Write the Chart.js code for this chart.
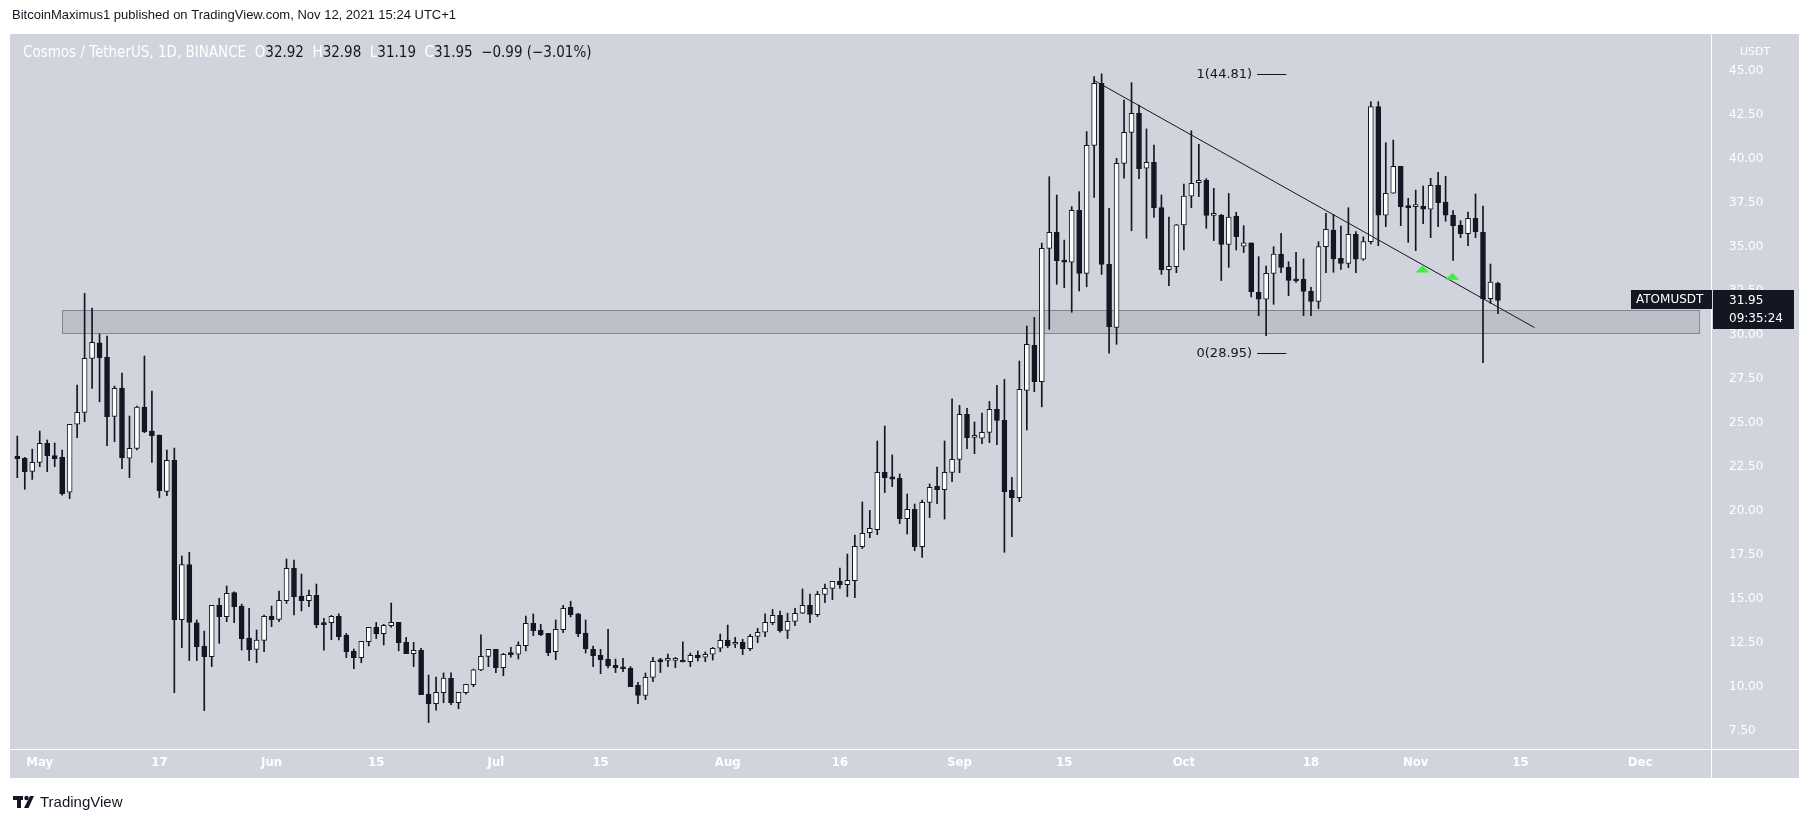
<!DOCTYPE html>
<html>
<head>
<meta charset="utf-8">
<title>ATOMUSDT 1D</title>
<script src="https://cdn.jsdelivr.net/npm/chart.js@4.4.1/dist/chart.umd.min.js"></script>
<style>
  html, body { margin: 0; padding: 0; background: #fff; }
  canvas { display: block; }
</style>
</head>
<body>
<canvas id="chart" width="1813" height="826"></canvas>
<script>
// daily candles, index 0 = 2021-04-28, last = 2021-11-12
const opens = [
  23.11,22.98,22.24,22.75,23.83,23.13,23.03,21.05,24.91,25.59,
  28.65,29.53,28.73,25.36,26.97,22.98,23.54,25.89,24.53,24.30,
  21.10,22.86,13.81,16.95,13.63,12.32,11.71,14.63,13.99,15.35,
  14.59,12.77,12.13,12.64,14.00,13.83,14.89,16.75,15.16,14.89,
  15.20,13.57,13.65,14.00,12.92,12.02,11.66,12.57,13.38,13.02,
  13.47,13.66,12.53,11.88,12.07,9.58,9.05,9.67,10.48,9.10,
  9.67,10.12,10.96,11.73,12.13,11.09,11.85,11.85,12.34,13.61,
  13.21,13.04,12.00,13.25,14.52,14.14,13.06,12.13,11.79,11.56,
  11.22,11.11,11.05,10.09,9.52,10.54,11.52,11.50,11.50,11.51,
  11.43,11.81,11.68,11.85,12.19,12.64,12.42,12.53,12.17,12.87,
  13.10,13.64,14.06,13.21,13.72,14.18,14.63,14.10,15.25,15.59,
  15.99,15.80,16.03,17.96,18.76,18.93,22.18,21.92,21.84,19.55,
  20.08,17.96,20.48,21.38,21.20,22.18,22.92,25.47,24.17,24.12,
  24.45,25.76,25.13,21.16,20.74,26.84,29.39,27.33,34.90,35.81,
  34.24,34.11,37.06,33.48,40.75,44.27,33.99,30.41,39.73,41.49,
  42.57,39.45,39.79,37.21,33.69,33.86,36.23,37.86,38.63,38.76,
  36.77,36.77,35.13,36.74,35.03,35.21,32.40,32.01,33.48,34.58,
  33.82,33.14,33.14,32.46,31.89,35.00,35.94,34.33,34.05,35.70,
  34.28,35.28,42.95,36.78,38.03,39.56,37.30,37.27,37.30,37.12,
  38.48,37.53,36.78,36.21,35.74,36.61,35.81,32.05,32.92
];
const highs = [
  24.24,23.03,23.50,24.53,24.02,23.85,23.45,24.91,27.14,32.35,
  31.51,30.04,29.92,27.08,27.82,25.38,25.95,28.79,26.80,24.30,
  23.45,23.56,17.43,17.64,13.80,13.17,14.63,15.03,15.73,15.39,
  14.70,14.46,13.23,14.08,14.59,15.44,17.26,17.20,16.41,15.50,
  15.84,13.89,14.06,14.14,13.04,12.15,12.58,13.38,13.66,13.55,
  14.76,13.66,12.81,12.53,12.19,10.67,10.56,10.79,10.79,9.69,
  10.14,11.01,12.95,12.13,12.13,11.90,12.24,12.55,14.02,14.14,
  13.55,13.04,13.80,14.63,14.86,14.18,13.80,12.32,12.13,13.27,
  11.58,11.62,11.15,10.26,10.79,11.68,11.62,11.86,11.67,12.55,
  11.92,12.04,11.98,12.24,13.00,13.51,12.81,12.70,12.98,13.32,
  14.14,14.40,14.31,14.18,14.46,15.56,15.27,15.42,15.84,15.99,
  16.75,17.54,18.62,20.50,20.02,23.96,24.81,23.17,22.09,20.95,
  20.38,20.61,21.52,22.48,23.96,26.35,25.99,25.82,25.04,25.55,
  26.21,27.12,27.46,21.90,28.50,30.49,30.98,35.20,38.97,37.93,
  35.37,37.27,38.12,41.53,44.65,44.81,37.17,40.01,43.32,44.31,
  43.04,41.68,40.77,37.93,36.68,36.26,38.55,41.58,40.81,38.86,
  38.31,36.83,38.02,36.95,36.19,35.21,34.43,33.90,35.00,35.75,
  34.14,34.68,34.30,32.69,35.28,36.89,36.83,36.17,37.21,35.85,
  35.56,43.23,43.23,40.90,41.05,39.56,37.74,38.21,38.44,38.88,
  39.22,38.99,37.04,36.47,36.96,37.99,37.30,34.01,32.98
];
const lows = [
  21.88,21.22,21.78,22.50,22.22,22.50,20.89,20.69,24.15,25.06,
  26.95,26.19,23.70,23.92,22.39,21.88,23.45,24.43,22.75,20.74,
  20.86,9.67,12.22,11.49,11.49,8.65,11.15,12.47,13.70,13.64,
  12.09,11.49,11.37,12.00,13.42,13.70,14.74,14.08,14.31,14.55,
  13.36,12.09,12.68,12.66,11.66,11.03,11.37,12.32,12.74,12.38,
  13.38,12.05,11.88,11.15,9.56,7.97,8.68,9.10,8.99,8.76,
  9.58,10.01,10.92,11.15,10.81,10.63,11.68,11.58,12.04,12.91,
  12.91,11.77,11.54,13.08,13.97,12.85,11.92,11.15,10.75,11.07,
  10.81,10.86,10.01,9.04,9.27,10.30,10.81,11.15,11.09,11.41,
  11.15,11.47,11.43,11.52,12.00,12.23,12.23,11.83,12.05,12.51,
  12.85,13.53,13.11,12.74,13.47,14.16,13.64,13.99,14.78,14.95,
  15.59,15.12,15.06,17.85,18.47,18.64,21.03,21.37,19.27,18.68,
  17.73,17.35,19.61,20.40,19.53,21.65,22.16,23.53,23.24,23.81,
  23.87,23.75,17.64,18.53,20.52,24.59,26.76,25.90,30.30,32.86,
  32.67,31.27,32.48,32.72,37.80,33.42,28.95,29.45,38.88,35.90,
  38.86,35.47,36.66,33.42,32.78,33.52,34.81,37.21,37.84,36.04,
  35.34,33.07,33.82,34.81,34.66,32.14,31.08,29.94,31.72,33.52,
  32.21,32.97,31.08,31.08,31.48,33.52,33.54,33.71,33.80,33.52,
  34.22,35.15,35.05,36.13,38.03,36.19,35.24,34.77,36.30,35.51,
  36.13,36.44,34.22,35.51,35.05,35.51,28.41,31.78,31.19
];
const closes = [
  22.96,22.22,22.75,23.83,23.13,22.96,20.97,24.91,25.59,28.65,
  29.56,28.69,25.34,26.95,23.01,23.54,25.89,24.49,24.26,21.14,
  22.86,13.81,16.95,13.66,12.28,11.71,14.63,13.99,15.31,14.55,
  12.74,12.11,12.66,14.00,13.81,14.91,16.73,15.12,14.89,15.20,
  13.53,13.53,14.00,12.85,12.00,11.66,12.58,13.38,13.00,13.49,
  13.66,12.51,11.88,12.07,9.56,9.05,9.69,10.50,9.10,9.69,
  10.14,10.96,11.73,12.13,11.09,11.85,11.83,12.36,13.61,13.19,
  12.96,11.94,13.27,14.46,14.10,13.02,12.17,11.77,11.54,11.20,
  11.09,11.03,10.01,9.52,10.54,11.45,11.43,11.50,11.51,11.41,
  11.79,11.66,11.85,12.19,12.64,12.34,12.53,12.17,12.87,13.10,
  13.66,14.06,13.19,13.72,14.18,14.63,14.12,15.25,15.59,15.99,
  15.80,16.05,17.98,18.72,19.00,22.18,21.88,21.80,19.55,20.08,
  17.96,20.48,21.33,21.20,22.18,22.92,25.47,24.15,24.17,24.45,
  25.76,25.13,21.08,20.74,26.89,29.45,27.33,34.90,35.81,34.20,
  34.11,37.06,33.48,40.75,44.27,33.99,30.45,39.73,41.49,42.57,
  39.43,39.79,37.21,33.69,33.88,36.23,37.87,38.60,38.76,36.77,
  36.77,35.13,36.68,35.56,35.21,32.44,32.01,33.48,34.58,33.82,
  33.08,33.05,32.46,31.89,35.00,35.98,34.30,34.05,35.70,34.28,
  35.28,42.95,36.78,38.03,39.56,37.27,37.21,37.27,37.12,38.48,
  37.49,36.78,36.19,35.74,36.61,35.85,32.05,32.99,31.95
];

// axis ticks (x = day index from 2021-04-28)
const xTickIdx = [3, 19, 34, 48, 64, 78, 95, 110, 126, 140, 156, 173, 187, 201, 217];
const xTickText = ['May', '17', 'Jun', '15', 'Jul', '15', 'Aug', '16', 'Sep', '15', 'Oct', '18', 'Nov', '15', 'Dec'];
const yTickVals = [7.5, 10, 12.5, 15, 17.5, 20, 22.5, 25, 27.5, 30, 32.5, 35, 37.5, 40, 42.5, 45];

// drawings on the chart
const zoneIdx = [6.0, 224.9];
const zonePrice = [30.07, 31.40];
const trendIdx = [143.9, 202.9];
const trendPrice = [44.46, 30.40];
const fibPrice = [44.81, 28.95];
const fibText = ['1(44.81)', '0(28.95)'];
const fibIdx = [165.8, 169.7];
const arrowIdx = [187.9, 191.9];
const arrowPrice = [33.73, 33.32];
const lastPrice = 31.95;

const DARK = '#131722';
const BG = '#d1d4dc';
const NARROW = '"Liberation Sans Narrow", "DejaVu Sans Condensed", "Liberation Sans", sans-serif';
const AXISFONT = '"DejaVu Sans", sans-serif';

const idx = opens.map((_, i) => i);
const bodies = idx.map(i => ({ x: i, y: [opens[i], closes[i]] }));
const wicks = idx.map(i => ({ x: i, y: [lows[i], highs[i]] }));
const bodyColors = idx.map(i => closes[i] >= opens[i] ? '#ffffff' : DARK);

const overlay = {
    id: 'overlay',
    beforeDraw(chart) {
        const ctx = chart.ctx;
        ctx.save();
        ctx.fillStyle = '#ffffff';
        ctx.fillRect(0, 0, chart.width, chart.height);
        ctx.fillStyle = BG;
        ctx.fillRect(10, 34, 1789, 744);
        ctx.restore();
    },
    beforeDatasetsDraw(chart) {
        const { ctx, chartArea: a, scales: { x, y } } = chart;
        ctx.save();
        ctx.beginPath();
        ctx.rect(a.left, a.top, a.right - a.left, a.bottom - a.top);
        ctx.clip();
        // support zone
        const x1 = x.getPixelForValue(zoneIdx[0]), x2 = x.getPixelForValue(zoneIdx[1]);
        const y1 = y.getPixelForValue(zonePrice[1]), y2 = y.getPixelForValue(zonePrice[0]);
        ctx.fillStyle = 'rgba(120,123,134,0.22)';
        ctx.fillRect(x1, y1, x2 - x1, y2 - y1);
        ctx.strokeStyle = 'rgba(120,123,134,0.85)';
        ctx.lineWidth = 1;
        ctx.strokeRect(Math.round(x1) + 0.5, Math.round(y1) + 0.5, Math.round(x2 - x1), Math.round(y2 - y1));
        ctx.restore();
    },
    afterDatasetsDraw(chart) {
        const { ctx, scales: { x, y } } = chart;
        ctx.save();
        // fib levels
        ctx.font = '13px ' + AXISFONT;
        ctx.fillStyle = DARK;
        ctx.strokeStyle = DARK;
        ctx.lineWidth = 1;
        ctx.textAlign = 'right';
        ctx.textBaseline = 'middle';
        const fx1 = x.getPixelForValue(fibIdx[0]), fx2 = x.getPixelForValue(fibIdx[1]);
        fibPrice.forEach((p, k) => {
            const py = Math.round(y.getPixelForValue(p)) + 0.5;
            ctx.beginPath();
            ctx.moveTo(fx1, py);
            ctx.lineTo(fx2, py);
            ctx.stroke();
            ctx.fillText(fibText[k], fx1 - 5, py);
        });
        // green arrows
        ctx.fillStyle = '#3cf03c';
        arrowIdx.forEach((v, k) => {
            const cx = x.getPixelForValue(v), cy = y.getPixelForValue(arrowPrice[k]);
            ctx.beginPath();
            ctx.moveTo(cx - 7, cy + 3.5);
            ctx.lineTo(cx, cy - 3.5);
            ctx.lineTo(cx + 7, cy + 3.5);
            ctx.closePath();
            ctx.fill();
        });
        ctx.restore();
    },
    afterDraw(chart) {
        const { ctx, chartArea: a, scales: { y } } = chart;
        ctx.save();
        // separators between plot and axes
        ctx.strokeStyle = '#ffffff';
        ctx.lineWidth = 1;
        ctx.beginPath();
        ctx.moveTo(a.right + 0.5, 34);
        ctx.lineTo(a.right + 0.5, 778);
        ctx.moveTo(10, a.bottom + 0.5);
        ctx.lineTo(1799, a.bottom + 0.5);
        ctx.stroke();

        // currency label
        ctx.fillStyle = '#ffffff';
        ctx.font = '11px ' + AXISFONT;
        ctx.textAlign = 'center';
        ctx.textBaseline = 'middle';
        ctx.fillText('USDT', 1755, 52);

        // last price labels
        const py = y.getPixelForValue(lastPrice);
        ctx.fillStyle = DARK;
        ctx.fillRect(1631, Math.round(py) - 10, 81, 19);
        ctx.fillRect(1713, Math.round(py) - 10, 81, 39);
        ctx.fillStyle = '#ffffff';
        ctx.font = '12px ' + AXISFONT;
        ctx.textAlign = 'left';
        ctx.fillText('ATOMUSDT', 1636, py);
        ctx.fillText(lastPrice.toFixed(2), 1729, py + 1);
        ctx.fillText('09:35:24', 1729, py + 19);

        // header
        ctx.fillStyle = DARK;
        ctx.font = '13px "Liberation Sans", sans-serif';
        ctx.fillText('BitcoinMaximus1 published on TradingView.com, Nov 12, 2021 15:24 UTC+1', 12, 15);

        // legend line
        ctx.font = '15px ' + NARROW;
        let lx = 23;
        const parts = [
            ['Cosmos / TetherUS, 1D, BINANCE  ', '#ffffff'],
            ['O', '#ffffff'], ['32.92  ', DARK],
            ['H', '#ffffff'], ['32.98  ', DARK],
            ['L', '#ffffff'], ['31.19  ', DARK],
            ['C', '#ffffff'], ['31.95  ', DARK],
            ['\u22120.99 (\u22123.01%)', DARK]
        ];
        parts.forEach(([t, c]) => {
            ctx.fillStyle = c;
            ctx.fillText(t, lx, 53);
            lx += ctx.measureText(t).width;
        });

        // footer logo
        ctx.fillStyle = DARK;
        ctx.fillRect(13, 796, 10, 4);
        ctx.fillRect(17, 796, 4, 12);
        ctx.beginPath();
        ctx.arc(26.5, 798, 2.2, 0, Math.PI * 2);
        ctx.fill();
        ctx.beginPath();
        ctx.moveTo(24, 808);
        ctx.lineTo(30, 796);
        ctx.lineTo(34, 796);
        ctx.lineTo(28.5, 808);
        ctx.closePath();
        ctx.fill();
        ctx.font = '15px "Liberation Sans", sans-serif';
        ctx.fillText('TradingView', 40, 803);
        ctx.restore();
    }
};

new Chart(document.getElementById('chart'), {
    type: 'bar',
    data: {
        datasets: [
            {
                type: 'line',
                data: trendIdx.map((v, k) => ({ x: v, y: trendPrice[k] })),
                borderColor: DARK,
                borderWidth: 1,
                pointRadius: 0,
                order: 0
            },
            {
                data: bodies,
                backgroundColor: bodyColors,
                borderColor: DARK,
                borderWidth: 1,
                borderSkipped: false,
                barThickness: 5,
                minBarLength: 2,
                grouped: false,
                order: 1
            },
            {
                data: wicks,
                backgroundColor: DARK,
                barThickness: 1,
                grouped: false,
                order: 2
            }
        ]
    },
    options: {
        responsive: false,
        animation: false,
        layout: { padding: { left: 13, right: 14, top: 39, bottom: 49 } },
        plugins: { legend: { display: false }, tooltip: { enabled: false } },
        scales: {
            x: {
                type: 'linear',
                min: -0.575,
                max: 226.49,
                offset: false,
                grid: { display: false, drawTicks: false },
                border: { display: false },
                afterBuildTicks: s => { s.ticks = xTickIdx.map(v => ({ value: v })); },
                afterFit: s => { s.height = 28; },
                ticks: {
                    autoSkip: false,
                    maxRotation: 0,
                    padding: 6,
                    color: '#ffffff',
                    font: { family: NARROW, size: 13, weight: 'bold' },
                    callback: (v, i) => xTickText[i]
                }
            },
            y: {
                position: 'right',
                min: 6.471,
                max: 46.789,
                grid: { display: false, drawTicks: false },
                border: { display: false },
                afterBuildTicks: s => { s.ticks = yTickVals.map(v => ({ value: v })); },
                afterFit: s => { s.width = 88; },
                ticks: {
                    crossAlign: 'near',
                    padding: 18,
                    color: '#ffffff',
                    font: { family: AXISFONT, size: 12 },
                    callback: v => v.toFixed(2)
                }
            }
        }
    },
    plugins: [overlay]
});
</script>
</body>
</html>
